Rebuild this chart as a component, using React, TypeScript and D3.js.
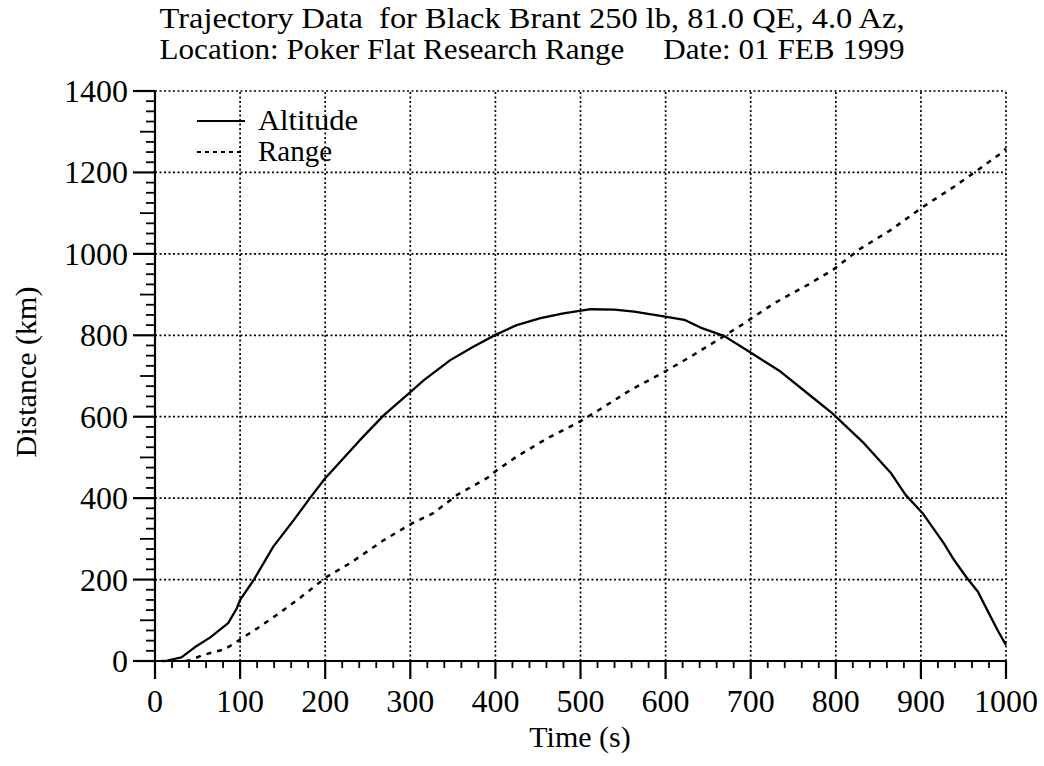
import React from "react";
import * as d3 from "d3";

const titleLine1 = "Trajectory Data  for Black Brant 250 lb, 81.0 QE, 4.0 Az,";
const titleLine2 = "Location: Poker Flat Research Range     Date: 01 FEB 1999";
const xLabel = "Time (s)";
const yLabel = "Distance (km)";

const xTicks = [0, 100, 200, 300, 400, 500, 600, 700, 800, 900, 1000];
const yTicks = [0, 200, 400, 600, 800, 1000, 1200, 1400];

const altitudeTime = [8, 12, 31, 49, 65, 86, 96, 100, 116, 139, 163, 182, 200, 218, 241, 269, 296, 316, 347, 374, 400, 425, 453, 480, 512, 540, 563, 596, 622, 641, 669, 698, 735, 767, 796, 833, 865, 882, 902, 927, 939, 953, 967, 978, 990, 1000];
const altitudeKm = [0, 0, 9, 37, 58, 93, 129, 150, 199, 281, 346, 400, 449, 490, 543, 604, 653, 690, 739, 772, 801, 825, 842, 854, 864, 863, 858, 847, 838, 819, 798, 760, 711, 657, 608, 535, 461, 408, 363, 289, 248, 207, 170, 125, 76, 39];

const rangeTime = [36, 41, 57, 82, 96, 108, 120, 143, 171, 202, 229, 269, 302, 327, 355, 390, 402, 425, 461, 496, 522, 559, 596, 629, 661, 692, 727, 767, 796, 829, 865, 900, 939, 967, 994, 1000];
const rangeKm = [0, 2, 15, 29, 47, 64, 80, 113, 156, 207, 240, 297, 338, 363, 408, 449, 469, 502, 547, 584, 617, 666, 707, 747, 788, 829, 878, 924, 960, 1013, 1059, 1112, 1165, 1206, 1247, 1258];

const FONT = "'Liberation Serif', 'Times New Roman', serif";

export default function App() {
  const x = d3.scaleLinear().domain([0, 1000]).range([155, 1006]);
  const y = d3.scaleLinear().domain([0, 1400]).range([661, 91]);

  const line = d3
    .line<[number, number]>()
    .x((d) => x(d[0]))
    .y((d) => y(d[1]));

  const altPts: [number, number][] = altitudeTime.map((t, i) => [t, altitudeKm[i]]);
  const rangePts: [number, number][] = rangeTime.map((t, i) => [t, rangeKm[i]]);

  const xMinor = d3.range(0, 1001, 20).filter((v) => v % 100 !== 0);
  const yMinor = d3.range(0, 1401, 25).filter((v) => v % 100 !== 0);
  const yMid = d3.range(100, 1400, 200);

  const [x0, x1] = x.range();
  const [y0, y1] = y.range();

  return (
    <svg
      width={1044}
      height={766}
      style={{ position: "absolute", left: 0, top: 0, background: "#fff" }}
      fontFamily={FONT}
    >
      <rect x={0} y={0} width={1044} height={766} fill="#fff" />
      {/* title */}
      <text x={532} y={28} textAnchor="middle" fontSize={29} style={{ whiteSpace: "pre" }} textLength={745} lengthAdjust="spacingAndGlyphs">
        {titleLine1}
      </text>
      <text x={532} y={59} textAnchor="middle" fontSize={29} style={{ whiteSpace: "pre" }} textLength={745} lengthAdjust="spacingAndGlyphs">
        {titleLine2}
      </text>

      {/* grid */}
      <g stroke="#000" strokeWidth={1.7} strokeDasharray="2,2.5" fill="none">
        {xTicks.filter((v) => v > 0).map((v) => (
          <line key={"gx" + v} x1={x(v)} x2={x(v)} y1={y0} y2={y1} />
        ))}
        {yTicks.filter((v) => v > 0).map((v) => (
          <line key={"gy" + v} x1={x0} x2={x1} y1={y(v)} y2={y(v)} />
        ))}
      </g>

      {/* axes */}
      <g stroke="#000" strokeWidth={2.2} fill="none">
        <line x1={x0} x2={x0} y1={y0} y2={y1} />
        <line x1={x0} x2={x1} y1={y0} y2={y0} />
        {xTicks.map((v) => (
          <line key={"xt" + v} x1={x(v)} x2={x(v)} y1={y0} y2={y0 + 18} />
        ))}
        {xMinor.map((v) => (
          <line key={"xm" + v} x1={x(v)} x2={x(v)} y1={y0} y2={y0 + 7} strokeWidth={1.8} />
        ))}
        {yTicks.map((v) => (
          <line key={"yt" + v} x1={x0 - 22} x2={x0} y1={y(v)} y2={y(v)} />
        ))}
        {yMid.map((v) => (
          <line key={"ymd" + v} x1={x0 - 15} x2={x0} y1={y(v)} y2={y(v)} strokeWidth={1.8} />
        ))}
        {yMinor.filter((v) => v % 100 !== 0).map((v) => (
          <line key={"ym" + v} x1={x0 - 9} x2={x0} y1={y(v)} y2={y(v)} strokeWidth={1.8} />
        ))}
      </g>

      {/* tick labels */}
      <g fontSize={32} fill="#000">
        {xTicks.map((v) => (
          <text key={"xl" + v} x={x(v)} y={y0 + 51} textAnchor="middle">
            {v}
          </text>
        ))}
        {yTicks.map((v) => (
          <text key={"yl" + v} x={x0 - 27} y={y(v) + 11} textAnchor="end">
            {v}
          </text>
        ))}
      </g>

      {/* axis titles */}
      <text x={580} y={747} textAnchor="middle" fontSize={30}>
        {xLabel}
      </text>
      <text transform={`translate(36,372) rotate(-90)`} textAnchor="middle" fontSize={30}>
        {yLabel}
      </text>

      {/* data */}
      <path d={line(altPts) || ""} fill="none" stroke="#000" strokeWidth={2.3} strokeLinejoin="round" />
      <path d={line(rangePts) || ""} fill="none" stroke="#000" strokeWidth={2.5} strokeDasharray="5,6" />

      {/* legend */}
      <line x1={197} x2={245} y1={121} y2={121} stroke="#000" strokeWidth={2} />
      <line x1={197} x2={245} y1={152} y2={152} stroke="#000" strokeWidth={2} strokeDasharray="4,4" />
      <text x={258} y={130} fontSize={29} textLength={100} lengthAdjust="spacingAndGlyphs">Altitude</text>
      <text x={258} y={161} fontSize={29}>Range</text>
    </svg>
  );
}
